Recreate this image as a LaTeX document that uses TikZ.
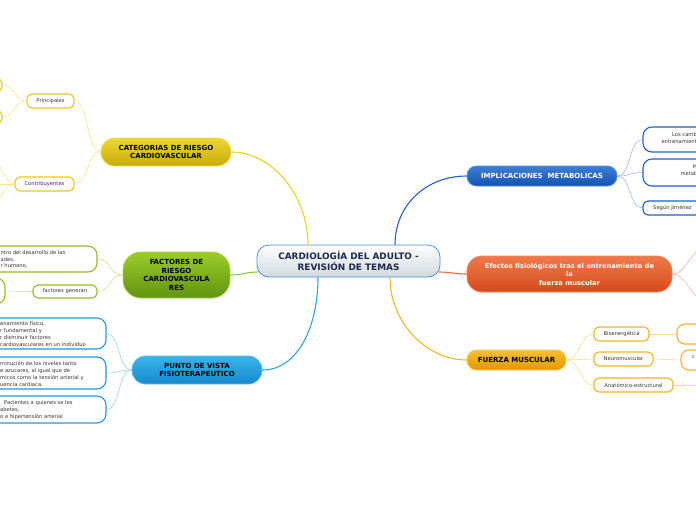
\documentclass[tikz,border=0pt]{standalone}
\usepackage{fontspec}
\setmainfont{DejaVu Sans}
\definecolor{yl}{HTML}{F0D020}
\definecolor{ylsub}{HTML}{E8C81A}
\definecolor{yline}{HTML}{F7E690}
\definecolor{gr}{HTML}{8CC63F}
\definecolor{grsub}{HTML}{8CBF26}
\definecolor{gline}{HTML}{C8E49A}
\definecolor{bl}{HTML}{2AA7E0}
\definecolor{blsub}{HTML}{1E9BE2}
\definecolor{bline}{HTML}{96D3F2}
\definecolor{db}{HTML}{1F5FD0}
\definecolor{dbsub}{HTML}{1E5FD0}
\definecolor{dbline}{HTML}{9AB9EC}
\definecolor{orr}{HTML}{EE6A3A}
\definecolor{orline}{HTML}{F8B8A0}
\definecolor{oy}{HTML}{F5B820}
\definecolor{oysub}{HTML}{F5B520}
\definecolor{oyline}{HTML}{FCDA88}
\definecolor{txt}{HTML}{333333}
% box colours
\definecolor{cbd}{HTML}{4A90D9}
\definecolor{cbot}{HTML}{D2D8DE}
\definecolor{ctx}{HTML}{1B2A4E}
\definecolor{catbd}{HTML}{F0DE5A}
\definecolor{cattop}{HTML}{ECD832}
\definecolor{catbot}{HTML}{C9AB0A}
\definecolor{facbd}{HTML}{AAD246}
\definecolor{factop}{HTML}{9CCC2A}
\definecolor{facbot}{HTML}{5F9410}
\definecolor{punbd}{HTML}{5CC0F0}
\definecolor{puntop}{HTML}{3AB4EA}
\definecolor{punbot}{HTML}{1589CC}
\definecolor{impbd}{HTML}{5A90E0}
\definecolor{imptop}{HTML}{3D7ED8}
\definecolor{impbot}{HTML}{1552B0}
\definecolor{efebd}{HTML}{F5825A}
\definecolor{efetop}{HTML}{F07A4A}
\definecolor{efebot}{HTML}{D54A1C}
\definecolor{fuebd}{HTML}{F8C850}
\definecolor{fuetop}{HTML}{F7C032}
\definecolor{fuebot}{HTML}{E09800}
\tikzset{
  mainbox/.style={draw, line width=0.8pt, inner sep=0pt, align=center,
    font=\bfseries\fontsize{7}{8.6}\selectfont},
  subbox/.style={draw, fill=white, line width=1.1pt, inner sep=0pt,
    rounded corners=5pt, text=txt, font=\fontsize{5.2}{6.5}\selectfont},
  bigsub/.style={subbox, rounded corners=9pt},
  bodytext/.style={inner sep=0pt, text=txt, align=left,
    font=\fontsize{5.2}{7}\selectfont},
  mainline/.style={line width=1.1pt},
  subline/.style={line width=0.6pt},
}
\begin{document}
\begin{tikzpicture}[x=1pt,y=-1pt]
\useasboundingbox (0,0) rectangle (696,520);
\fill[white] (0,0) rectangle (696,520);
\clip (0,0) rectangle (696,520);

% ---------- central ----------
\node[mainbox, draw=cbd, top color=white, bottom color=cbot,
  rounded corners=12pt, minimum width=183pt, minimum height=32pt,
  text=ctx, font=\bfseries\fontsize{8.9}{11}\selectfont]
  (c) at (348.5,261) {CARDIOLOGÍA DEL ADULTO -\\REVISIÓN DE TEMAS};

% ---------- main topics ----------
\node[mainbox, draw=catbd, top color=cattop, bottom color=catbot,
  rounded corners=13.5pt, minimum width=130pt, minimum height=28pt]
  (cat) at (166,152) {CATEGORIAS DE RIESGO\\CARDIOVASCULAR};
\node[mainbox, draw=facbd, top color=factop, bottom color=facbot,
  rounded corners=18pt, minimum width=107pt, minimum height=46pt]
  (fac) at (176.5,275) {FACTORES DE\\RIESGO\\CARDIOVASCULA\\RES};
\node[mainbox, draw=punbd, top color=puntop, bottom color=punbot,
  rounded corners=13.5pt, minimum width=130pt, minimum height=28pt]
  (pun) at (197,370) {PUNTO DE VISTA\\FISIOTERAPEUTICO};
\node[mainbox, draw=impbd, top color=imptop, bottom color=impbot,
  rounded corners=9.5pt, minimum width=150pt, minimum height=20pt, text=white]
  (imp) at (542,176) {IMPLICACIONES\ \ METABOLICAS};
\node[mainbox, draw=efebd, top color=efetop, bottom color=efebot,
  rounded corners=15pt, minimum width=205pt, minimum height=36pt, text=white,
  font=\bfseries\fontsize{6.7}{8.5}\selectfont]
  (efe) at (569.5,274) {Efectos fisiológicos tras el entrenamiento de\\la\\fuerza muscular};
\node[mainbox, draw=fuebd, top color=fuetop, bottom color=fuebot,
  rounded corners=9.5pt, minimum width=99pt, minimum height=20pt]
  (fue) at (516.5,360) {FUERZA MUSCULAR};

% ---------- main connectors ----------
\draw[mainline, yl] ([xshift=-40.5pt]c.north) .. controls +(0,-50) and +(40,0) .. (cat.east);
\draw[mainline, gr] ([xshift=1.5pt,yshift=-11pt]c.west) .. controls +(-12,0) and +(12,0) .. (fac.east);
\draw[mainline, bl] ([xshift=-30.5pt]c.south) .. controls +(0,50) and +(35,0) .. (pun.east);
\draw[mainline, db] ([xshift=46.5pt]c.north) .. controls +(0,-40) and +(-40,0) .. (imp.west);
\draw[mainline, orr] ([xshift=-1.5pt,yshift=-11pt]c.east) .. controls +(12,0) and +(-12,0) .. (efe.west);
\draw[mainline, oy] ([xshift=41.5pt]c.south) .. controls +(0,45) and +(-40,0) .. (fue.west);

% ---------- CATEGORIAS branch ----------
\node[subbox, draw=ylsub, minimum width=47pt, minimum height=14pt] (pri) at (50.5,101) {Principales};
\node[subbox, draw=ylsub, minimum width=59pt, minimum height=14pt] (con) at (44.5,184) {Contribuyentes};
\node[subbox, draw=ylsub, minimum width=52pt, minimum height=13pt] (pra) at (-24,85) {};
\node[subbox, draw=ylsub, minimum width=52pt, minimum height=13pt] (prb) at (-24,117) {};
\coordinate (cona) at (-9,150);
\coordinate (conb) at (-9,184);
\coordinate (conc) at (-9,214);
\draw[subline, yline] (cat.west) .. controls +(-14,0) and +(14,0) .. (pri.east);
\draw[subline, yline] (cat.west) .. controls +(-14,0) and +(14,0) .. (con.east);
\draw[subline, yline] (pri.west) .. controls +(-12,0) and +(12,0) .. (pra.east);
\draw[subline, yline] (pri.west) .. controls +(-12,0) and +(12,0) .. (prb.east);
\draw[subline, yline] (con.west) .. controls +(-10,0) and +(8,10) .. (cona);
\draw[subline, yline] (con.west) -- (conb);
\draw[subline, yline] (con.west) .. controls +(-10,0) and +(8,-10) .. (conc);

% ---------- FACTORES branch ----------
\node[bigsub, draw=grsub, minimum width=167pt, minimum height=26pt] (gb1) at (13.5,259) {};
\node[bodytext, anchor=north west, font=\fontsize{5.2}{6.6}\selectfont] (gb1t) at (0.5,250.5)
  {ntro del desarrollo de las\\ades,\\r humano,};
\node[subbox, draw=grsub, minimum width=64pt, minimum height=13pt] (fg) at (65,291.5) {factores generan};
\node[bigsub, draw=grsub, minimum width=65pt, minimum height=26pt] (gb2) at (-27.5,291) {};
\draw[subline, gline] (fac.west) .. controls +(-14,0) and +(14,0) .. (gb1.east);
\draw[subline, gline] (fac.west) .. controls +(-14,0) and +(14,0) .. (fg.east);
\draw[subline, gline] (fg.west) -- (gb2.east);

% ---------- PUNTO branch ----------
\node[bigsub, draw=blsub, minimum width=160pt, minimum height=31pt] (bb1) at (26,333.5) {};
\node[bigsub, draw=blsub, minimum width=160pt, minimum height=32pt] (bb2) at (26,373) {};
\node[bigsub, draw=blsub, minimum width=160pt, minimum height=27pt] (bb3) at (26,409.5) {};
\node[bodytext, anchor=north west] (bb1t) at (0,321.5)
  {enamiento físico,\\r fundamental y\\r disminuir factores\\cardiovasculares en un individuo};
\node[bodytext, anchor=north west] (bb2t) at (0,361)
  {minución de los niveles tanto\\e azucares, al igual que de\\micos como la tensión arterial y\\uencia cardiaca.};
\node[bodytext, anchor=north west] (bb3t) at (4,400.5)
  {Pacientes a quienes se les\\\hspace*{-4pt}abetes,\\\hspace*{-4pt}o e hipertensión arterial};
\draw[subline, bline] (pun.west) .. controls +(-14,0) and +(14,0) .. (bb1.east);
\draw[subline, bline] (pun.west) .. controls +(-14,0) and +(14,0) .. (bb2.east);
\draw[subline, bline] (pun.west) .. controls +(-14,0) and +(14,0) .. (bb3.east);

% ---------- IMPLICACIONES branch ----------
\node[bigsub, draw=dbsub, minimum width=97pt, minimum height=25pt] (ia) at (691.5,139.5) {};
\node[bigsub, draw=dbsub, minimum width=97pt, minimum height=27pt] (ib) at (691.5,172.5) {};
\node[subbox, draw=dbsub, minimum width=97pt, minimum height=14pt] (ic) at (691.5,208) {};
\node[bodytext, align=right, anchor=east] (iat) at (697,138) {Los camb\\entrenamient};
\node[bodytext, align=right, anchor=east] (ibt) at (697.5,170) {M\\metab};
\node[bodytext, anchor=west] (ict) at (653,208) {Según Jiménez};
\draw[subline, dbline] (imp.east) .. controls +(14,0) and +(-14,0) .. (ia.west);
\draw[subline, dbline] (imp.east) .. controls +(14,0) and +(-14,0) .. (ib.west);
\draw[subline, dbline] (imp.east) .. controls +(14,0) and +(-14,0) .. (ic.west);

% ---------- Efectos branch ----------
\coordinate (efa) at (699,250);
\coordinate (efb) at (699,298);
\draw[subline, orline] (efe.east) .. controls +(12,0) and +(-10,6) .. (efa);
\draw[subline, orline] (efe.east) .. controls +(12,0) and +(-10,-6) .. (efb);

% ---------- FUERZA branch ----------
\node[subbox, draw=oysub, minimum width=55pt, minimum height=14pt] (bio) at (621.5,334) {Bioenergética};
\node[subbox, draw=oysub, minimum width=59pt, minimum height=14pt] (neu) at (623.5,359) {Neuromuscular};
\node[subbox, draw=oysub, minimum width=79pt, minimum height=14pt] (ana) at (633.5,385) {Anatómico-estructural};
\node[subbox, draw=oysub, rounded corners=8pt, minimum width=63pt, minimum height=20pt] (bioc) at (708.5,334) {};
\node[subbox, draw=oysub, rounded corners=8pt, minimum width=59pt, minimum height=20pt] (neuc) at (710.5,360) {};
\node[bodytext, anchor=west] (neuct) at (692,357) {c};
\coordinate (anac) at (699,385);
\draw[subline, oyline] (fue.east) .. controls +(14,0) and +(-14,0) .. (bio.west);
\draw[subline, oyline] (fue.east) .. controls +(14,0) and +(-14,0) .. (neu.west);
\draw[subline, oyline] (fue.east) .. controls +(14,0) and +(-14,0) .. (ana.west);
\draw[subline, oyline] (bio.east) -- (bioc.west);
\draw[subline, oyline] (neu.east) -- (neuc.west);
\draw[subline, oyline] (ana.east) -- (anac);
\end{tikzpicture}
\end{document}
